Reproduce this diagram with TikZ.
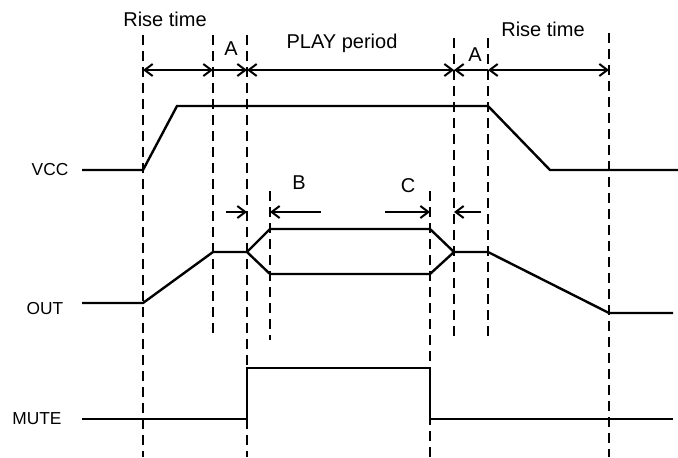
\documentclass[tikz,border=0pt]{standalone}
\usepackage{fontspec}
\setmainfont{Liberation Sans}
\usetikzlibrary{arrows.meta}
\begin{document}
\begin{tikzpicture}[x=0.75pt,y=-0.75pt,
  wave/.style={line width=1.8pt,line join=miter},
  guide/.style={line width=1.8pt,dash pattern=on 7.5pt off 4.5pt},
  dim/.style={line width=1.5pt,arrows={Straight Barb[length=6pt,width=9pt,line width=1.5pt]-Straight Barb[length=6pt,width=9pt,line width=1.5pt]}},
  dimr/.style={line width=1.5pt,-{Straight Barb[length=6pt,width=9pt,line width=1.5pt]}},
  toplbl/.style={font=\fontsize{15pt}{17pt}\selectfont,inner sep=0pt},
  sidelbl/.style={font=\fontsize{13pt}{15pt}\selectfont,inner sep=0pt}]
\useasboundingbox (0,0) rectangle (678,457);
% guide coordinates
\coordinate (g1t) at (143,35);  \coordinate (g1b) at (143,457);
\coordinate (g2t) at (213,35);  \coordinate (g2b) at (213,337);
\coordinate (g3t) at (247,35);  \coordinate (g3b) at (247,457);
\coordinate (g4t) at (270,191); \coordinate (g4b) at (270,340);
\coordinate (g5t) at (430,191); \coordinate (g5b) at (430,457);
\coordinate (g6t) at (454,38);  \coordinate (g6b) at (454,337);
\coordinate (g7t) at (488,38);  \coordinate (g7b) at (488,337);
\coordinate (g8t) at (609,33);  \coordinate (g8b) at (609,457);
\foreach \i in {1,...,8} \draw[guide] (g\i t) -- (g\i b);
% top dimension row
\coordinate (a1) at (143,70); \coordinate (a2) at (213,70); \coordinate (a3) at (247,70);
\coordinate (a6) at (454,70); \coordinate (a7) at (488,70); \coordinate (a8) at (609,70);
\draw[dim] (a1) -- (a2);
\draw[dimr] (a2) -- (a3);
\draw[dim] (a3) -- (a6);
\draw[dimr] (a7) -- (a6);
\draw[dim] (a7) -- (a8);
% second dimension row
\coordinate (b3s) at (226,212); \coordinate (b3) at (247,212);
\coordinate (b4s) at (321,212); \coordinate (b4) at (270,212);
\coordinate (b5s) at (385,212); \coordinate (b5) at (430,212);
\coordinate (b6s) at (481,212); \coordinate (b6) at (454,212);
\draw[dimr] (b3s) -- (b3);
\draw[dimr] (b4s) -- (b4);
\draw[dimr] (b5s) -- (b5);
\draw[dimr] (b6s) -- (b6);
% labels
\node[toplbl] (rt1) at (165,19) {Rise time};
\node[toplbl] (la1) at (231,49) {A};
\node[toplbl] (play) at (342,43) {PLAY period};
\node[toplbl] (la2) at (475,55) {A};
\node[toplbl] (rt2) at (543,29) {Rise time};
\node[toplbl] (lb) at (299,183) {B};
\node[toplbl] (lc) at (408,186) {C};
\node[sidelbl] (vcc) at (50,170) {VCC};
\node[sidelbl] (out) at (45,309) {OUT};
\node[sidelbl] (mute) at (37,419) {MUTE};
% VCC waveform
\draw[wave] (82,170) -- (143,170) -- (177,106) -- (488,106) -- (550,170) -- (678,170);
% OUT waveform
\draw[wave] (82,303) -- (143,303) -- (213,252) -- (247,252) -- (270,229) -- (430,229) -- (454,252) -- (488,252) -- (609,313) -- (673,313);
\draw[wave] (247,252) -- (270,274) -- (430,274) -- (454,252);
% MUTE waveform
\draw[wave] (82,419) -- (247,419) -- (247,368) -- (430,368) -- (430,419) -- (673,419);
\end{tikzpicture}
\end{document}
